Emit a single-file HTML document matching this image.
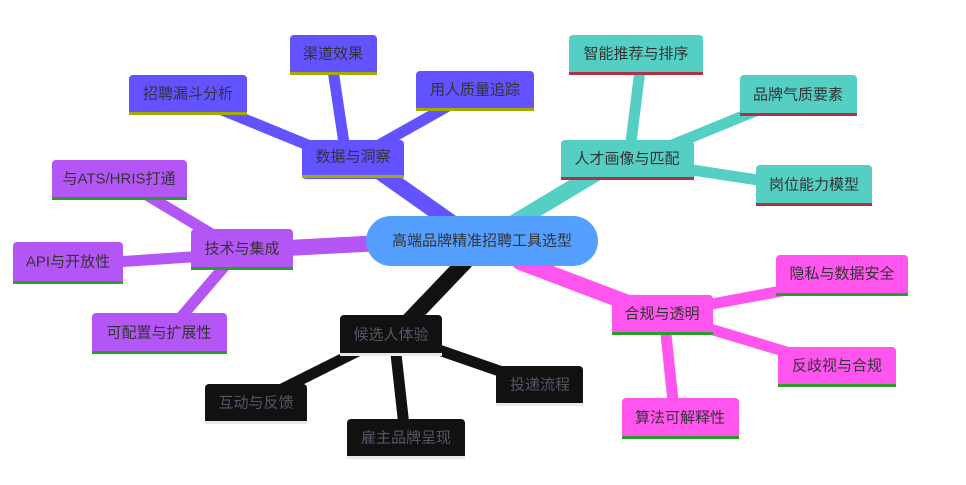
<!DOCTYPE html>
<html><head><meta charset="utf-8"><style>
body{margin:0;background:#fff;width:966px;height:480px;overflow:hidden}
text{font-family:"Liberation Sans","Noto Sans CJK SC",sans-serif;font-size:15px;text-anchor:middle;dominant-baseline:central}
</style></head><body>
<svg width="966" height="480" xmlns="http://www.w3.org/2000/svg">
<g stroke-linecap="round" fill="none">
<!-- data -->
<g stroke="#6352ff">
<line x1="455" y1="225" x2="370" y2="165" stroke-width="16"/>
<line x1="345" y1="150" x2="333" y2="70" stroke-width="11"/>
<line x1="370" y1="150" x2="450" y2="105" stroke-width="11"/>
<line x1="320" y1="150" x2="210" y2="105" stroke-width="11"/>
</g>
<g stroke="#55cec4">
<line x1="510" y1="225" x2="610" y2="165" stroke-width="16"/>
<line x1="630" y1="150" x2="640" y2="70" stroke-width="11"/>
<line x1="660" y1="150" x2="770" y2="105" stroke-width="11"/>
<line x1="660" y1="165" x2="790" y2="185" stroke-width="11"/>
</g>
<g stroke="#b456f5">
<line x1="400" y1="242" x2="250" y2="250" stroke-width="16"/>
<line x1="230" y1="245" x2="130" y2="185" stroke-width="11"/>
<line x1="220" y1="255" x2="70" y2="265" stroke-width="11"/>
<line x1="230" y1="260" x2="170" y2="330" stroke-width="11"/>
</g>
<g stroke="#ff55ee">
<line x1="520" y1="262" x2="660" y2="315" stroke-width="16"/>
<line x1="680" y1="310" x2="840" y2="280" stroke-width="11"/>
<line x1="680" y1="320" x2="830" y2="365" stroke-width="11"/>
<line x1="665" y1="325" x2="675" y2="420" stroke-width="11"/>
</g>
<g stroke="#111">
<line x1="465" y1="262" x2="400" y2="330" stroke-width="16"/>
<line x1="410" y1="340" x2="540" y2="385" stroke-width="11"/>
<line x1="395" y1="345" x2="405" y2="435" stroke-width="11"/>
<line x1="370" y1="345" x2="260" y2="400" stroke-width="11"/>
</g>
</g>
<!-- root -->
<rect x="366" y="216" width="232" height="50" rx="25" fill="#55a0ff"/>
<text x="482" y="241" fill="#333">高端品牌精准招聘工具选型</text>
<g id="n">
<!-- nodes: rect + stripe -->
</g>
<g>
<rect x="302" y="140" width="102" height="39" rx="4" fill="#6352ff"/><rect x="302" y="175" width="102" height="3" fill="#a3ad00"/><text x="353" y="157" fill="#333">数据与洞察</text>
<rect x="290" y="35" width="87" height="40" rx="4" fill="#6352ff"/><rect x="290" y="72" width="87" height="3" fill="#a3ad00"/><text x="333" y="54" fill="#333">渠道效果</text>
<rect x="416" y="71" width="118" height="40" rx="4" fill="#6352ff"/><rect x="416" y="108" width="118" height="3" fill="#a3ad00"/><text x="475" y="90" fill="#333">用人质量追踪</text>
<rect x="129" y="75" width="118" height="40" rx="4" fill="#6352ff"/><rect x="129" y="112" width="118" height="3" fill="#a3ad00"/><text x="188" y="94" fill="#333">招聘漏斗分析</text>

<rect x="561" y="140" width="133" height="40" rx="4" fill="#55cec4"/><rect x="561" y="177" width="133" height="3" fill="#b03048"/><text x="627" y="159" fill="#333">人才画像与匹配</text>
<rect x="569" y="35" width="134" height="40" rx="4" fill="#55cec4"/><rect x="569" y="72" width="134" height="3" fill="#b03048"/><text x="636" y="54" fill="#333">智能推荐与排序</text>
<rect x="740" y="75" width="117" height="41" rx="4" fill="#55cec4"/><rect x="740" y="113" width="117" height="3" fill="#b03048"/><text x="798" y="95" fill="#333">品牌气质要素</text>
<rect x="756" y="165" width="116" height="41" rx="4" fill="#55cec4"/><rect x="756" y="203" width="116" height="3" fill="#b03048"/><text x="814" y="185" fill="#333">岗位能力模型</text>

<rect x="191" y="229" width="102" height="41" rx="4" fill="#b456f5"/><rect x="191" y="267" width="102" height="3" fill="#2a9d2a"/><text x="242" y="249" fill="#333">技术与集成</text>
<rect x="52" y="160" width="135" height="40" rx="4" fill="#b456f5"/><rect x="52" y="197" width="135" height="3" fill="#2a9d2a"/><text x="119" y="179" fill="#333">与ATS/HRIS打通</text>
<rect x="13" y="242" width="110" height="42" rx="4" fill="#b456f5"/><rect x="13" y="281" width="110" height="3" fill="#2a9d2a"/><text x="68" y="262" fill="#333">API与开放性</text>
<rect x="92" y="313" width="135" height="41" rx="4" fill="#b456f5"/><rect x="92" y="351" width="135" height="3" fill="#2a9d2a"/><text x="159" y="333" fill="#333">可配置与扩展性</text>

<rect x="612" y="295" width="101" height="40" rx="4" fill="#ff55ee"/><rect x="612" y="332" width="101" height="3" fill="#2a9d2a"/><text x="662" y="314" fill="#333">合规与透明</text>
<rect x="776" y="255" width="132" height="41" rx="4" fill="#ff55ee"/><rect x="776" y="293" width="132" height="3" fill="#2a9d2a"/><text x="842" y="274" fill="#333">隐私与数据安全</text>
<rect x="778" y="347" width="118" height="40" rx="4" fill="#ff55ee"/><rect x="778" y="384" width="118" height="3" fill="#2a9d2a"/><text x="837" y="366" fill="#333">反歧视与合规</text>
<rect x="622" y="398" width="117" height="41" rx="4" fill="#ff55ee"/><rect x="622" y="436" width="117" height="3" fill="#2a9d2a"/><text x="680" y="418" fill="#333">算法可解释性</text>

<rect x="340" y="315" width="102" height="41" rx="4" fill="#111"/><rect x="340" y="353" width="102" height="3" fill="#e8e8e8"/><text x="391" y="335" fill="#556">候选人体验</text>
<rect x="496" y="366" width="87" height="40" rx="4" fill="#111"/><rect x="496" y="403" width="87" height="3" fill="#e8e8e8"/><text x="540" y="385" fill="#556">投递流程</text>
<rect x="347" y="419" width="118" height="40" rx="4" fill="#111"/><rect x="347" y="456" width="118" height="3" fill="#e8e8e8"/><text x="406" y="438" fill="#556">雇主品牌呈现</text>
<rect x="205" y="384" width="102" height="40" rx="4" fill="#111"/><rect x="205" y="421" width="102" height="3" fill="#e8e8e8"/><text x="256" y="403" fill="#556">互动与反馈</text>
</g>
</svg>
</body></html>
